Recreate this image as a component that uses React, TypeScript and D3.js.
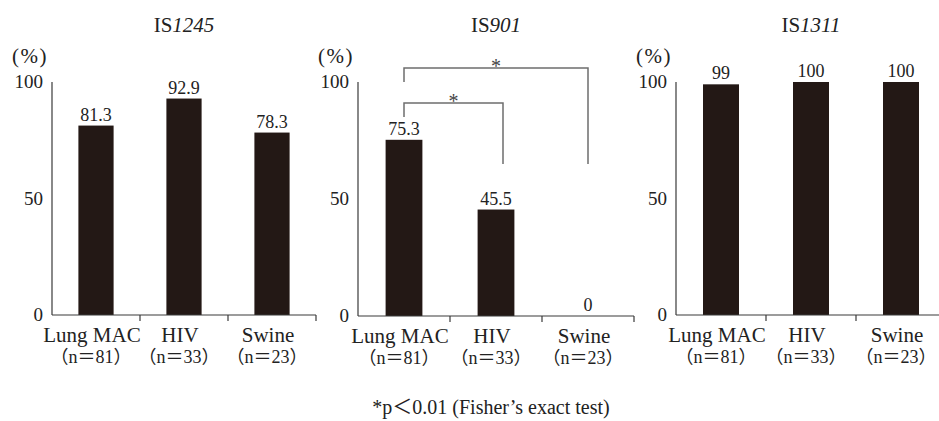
import React from 'react';
import * as d3 from 'd3';

// groups and their sample sizes
const categories = ['Lung MAC', 'HIV', 'Swine'];
const sampleSizes = [81, 33, 23];

// detection rate (%) per insertion sequence
const titles = ['1245', '901', '1311'];
const is1245 = [81.3, 92.9, 78.3];
const is901 = [75.3, 45.5, 0];
const is1311 = [99, 100, 100];
const yTicks = [0, 50, 100];

// significance brackets on IS901 (values in %)
const brackets = [
  { from: 0, to: 1, top: 91, fromEnd: 85, toEnd: 65, label: '*' },
  { from: 0, to: 2, top: 106, fromEnd: 100, toEnd: 65, label: '*' },
];

const W = 939;
const H = 421;
const serif = 'Liberation Serif, serif';
const mixed = 'Liberation Serif, Noto Sans CJK JP, serif';
const barColor = '#231815';
const axisColor = '#3a3a3a';

const layout = [
  { x0: 52, x1: 316, yZero: 315, yTop: 82, values: is1245, brackets: [] as typeof brackets },
  { x0: 358, x1: 634, yZero: 316, yTop: 82, values: is901, brackets },
  { x0: 676, x1: 946, yZero: 315, yTop: 82, values: is1311, brackets: [] as typeof brackets },
];

const Panel = ({ p, title }: { p: typeof layout[0]; title: string }) => {
  const x = d3.scaleBand<string>().domain(categories).range([p.x0, p.x1]).padding(0);
  const y = d3.scaleLinear().domain([0, 100]).range([p.yZero, p.yTop]);
  const bw = x.bandwidth();
  const barW = bw * 0.4;
  const cx = (i: number) => (x(categories[i]) as number) + bw / 2;
  const mid = (p.x0 + p.x1) / 2;

  return (
    <g>
      <text x={mid} y={32} textAnchor="middle" style={{ fontFamily: serif, fontSize: 21 }} fill="#222">
        <tspan>IS</tspan>
        <tspan fontStyle="italic">{title}</tspan>
      </text>
      <text x={p.x0 - 4} y={63} textAnchor="end" style={{ fontFamily: serif, fontSize: 21, letterSpacing: 1.5 }} fill="#222">
        (%)
      </text>

      {/* y axis */}
      <line x1={p.x0} x2={p.x0} y1={y(100)} y2={y(0)} stroke={axisColor} strokeWidth={1.2} />
      {yTicks.map(t => (
        <text key={t} x={p.x0 - 9} y={y(t)} dy="0.34em" textAnchor="end" style={{ fontFamily: serif, fontSize: 19 }} fill="#222">
          {t}
        </text>
      ))}

      {/* bars */}
      {p.values.map((v, i) => (
        <g key={i}>
          <rect x={cx(i) - barW / 2} y={y(v)} width={barW} height={y(0) - y(v)} fill={barColor} />
          <text x={cx(i)} y={y(v) - 5} textAnchor="middle" style={{ fontFamily: serif, fontSize: 18 }} fill="#222">
            {v}
          </text>
        </g>
      ))}

      {/* x axis */}
      <line x1={p.x0} x2={p.x1} y1={y(0)} y2={y(0)} stroke={axisColor} strokeWidth={1.2} />
      {categories.map(c => {
        const tx = (x(c) as number) + bw;
        return <line key={c} x1={tx} x2={tx} y1={y(0)} y2={y(0) + 6} stroke={axisColor} strokeWidth={1.2} />;
      })}
      {categories.map((c, i) => (
        <g key={c}>
          <text x={cx(i) - 4} y={y(0) + 27} textAnchor="middle" style={{ fontFamily: serif, fontSize: 21 }} fill="#222">
            {c}
          </text>
          <text x={cx(i) - 5} y={y(0) + 48} textAnchor="middle" style={{ fontFamily: mixed, fontSize: 18 }} fill="#222">
            {`（n＝${sampleSizes[i]}）`}
          </text>
        </g>
      ))}

      {/* significance brackets */}
      {p.brackets.map((b, k) => {
        const a = cx(b.from);
        const z = cx(b.to) + (b.to === 1 ? 7 : 0);
        return (
          <g key={k}>
            <path
              d={`M${a},${y(b.fromEnd)}V${y(b.top)}H${z}V${y(b.toEnd)}`}
              fill="none"
              stroke="#6e6e6e"
              strokeWidth={1.5}
            />
            <text x={(a + z) / 2} y={y(b.top) + 5} textAnchor="middle" style={{ fontFamily: serif, fontSize: 20 }} fill="#444">
              {b.label}
            </text>
          </g>
        );
      })}
    </g>
  );
};

export default function App() {
  return (
    <svg
      width={W}
      height={H}
      style={{ position: 'absolute', left: 0, top: 0, background: '#fff', fontFamily: serif }}
    >
      {layout.map((p, i) => (
        <Panel key={i} p={p} title={titles[i]} />
      ))}
      <text x={491} y={414} textAnchor="middle" style={{ fontFamily: mixed, fontSize: 20 }} fill="#222">
        *p＜0.01 (Fisher’s exact test)
      </text>
    </svg>
  );
}
